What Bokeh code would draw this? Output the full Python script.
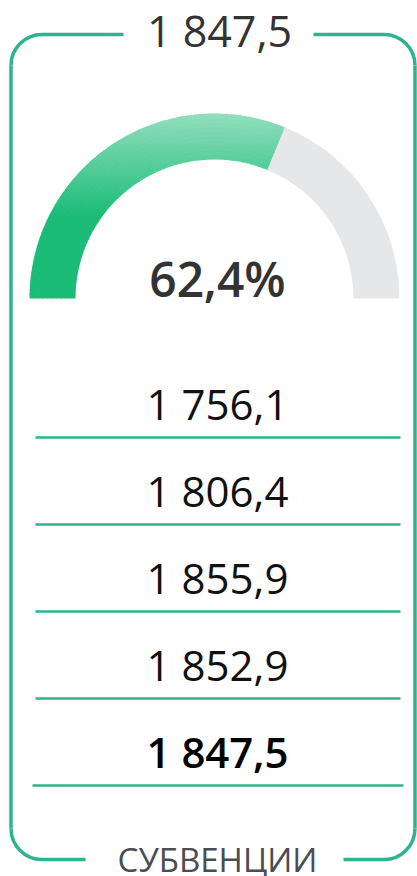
import numpy as np
from bokeh.plotting import figure
from bokeh.models import Range1d
from bokeh.core.properties import value
from bokeh.embed import file_html
from bokeh.resources import INLINE

# ---- data ----
title_value = 1847.5
percent = 62.4
row_values = [1756.1, 1806.4, 1855.9, 1852.9, 1847.5]
row_bold = [False, False, False, False, True]
caption = "СУБВЕНЦИИ"


def fmt(v, dec=1):
    s = f"{v:,.{dec}f}"
    return s.replace(",", " ").replace(".", ",")


# ---- layout (reference pixel units, y measured from top) ----
W, H = 417, 876
def Y(y):
    return H - y

TEAL = "#2DB48E"
p = figure(width=W, height=H, output_backend="svg", toolbar_location=None,
           x_range=Range1d(0, W), y_range=Range1d(0, H),
           min_border=0)
p.axis.visible = False
p.grid.visible = False
p.outline_line_color = None
p.background_fill_color = "white"
p.border_fill_color = "white"

FONT = "Open Sans"
SEMI = "Open Sans SemiBold"
BASE_SHIFT = 0.36  # empirical baseline correction (fraction of font size)


def label(x, y_base, txt, size, color, font=FONT, style="normal"):
    p.text(x=[x], y=[Y(y_base - BASE_SHIFT * size)], text=[txt], text_font=value(font),
           text_font_size=f"{size}px", text_font_style=style,
           text_color=color, text_align="center", text_baseline="alphabetic")


# frame with rounded corners and gaps for texts
L, R, T, B, rad = 10.5, 414.5, 34, 859, 31
lw = 3.5
p.segment(x0=[L + rad, 313], y0=[Y(T), Y(T)], x1=[123, R - rad], y1=[Y(T), Y(T)],
          line_color=TEAL, line_width=lw)
p.segment(x0=[L + rad, 343], y0=[Y(B), Y(B)], x1=[85, R - rad], y1=[Y(B), Y(B)],
          line_color=TEAL, line_width=lw)
p.segment(x0=[L, R], y0=[Y(T + rad), Y(T + rad)], x1=[L, R], y1=[Y(B - rad), Y(B - rad)],
          line_color=TEAL, line_width=lw)
p.arc(x=[L + rad, R - rad, L + rad, R - rad],
      y=[Y(T + rad), Y(T + rad), Y(B - rad), Y(B - rad)],
      radius=rad,
      start_angle=[np.pi / 2, 0, np.pi, 1.5 * np.pi],
      end_angle=[np.pi, np.pi / 2, 1.5 * np.pi, 2 * np.pi],
      line_color=TEAL, line_width=lw)

# title (top) and caption (bottom)
label(219, 45, fmt(title_value), 43, "#333333")
label(217, 871, caption, 33, "#4A4D52")

# gauge
cx, cy = 214, 298
r_in, r_out = 139, 185
frac = percent / 100.0
a_split = np.pi * (1 - frac)
p.annular_wedge(x=cx, y=Y(cy), inner_radius=r_in, outer_radius=r_out,
                start_angle=0, end_angle=a_split + 0.004,
                fill_color="#E6E7E9", line_color=None)

# green part with a vertical gradient: grid of small annular cells
n_ang, n_rad = 80, 10
a_edges = np.linspace(a_split, np.pi, n_ang + 1)
r_edges = np.linspace(r_in, r_out, n_rad + 1)
light = np.array([0x95, 0xE0, 0xC0])
solid = np.array([0x1B, 0xBC, 0x78])
g_x, g_y, g_ri, g_ro, g_sa, g_ea, g_col = [], [], [], [], [], [], []
for a0, a1 in zip(a_edges[:-1], a_edges[1:]):
    for k, (r0, r1) in enumerate(zip(r_edges[:-1], r_edges[1:])):
        am, rm = 0.5 * (a0 + a1), 0.5 * (r0 + r1)
        ym = cy - rm * np.sin(am)
        t = np.clip((ym - 110) / (215 - 110), 0, 1)
        c = light + (solid - light) * t
        g_x.append(cx)
        g_y.append(Y(cy))
        g_ri.append(r0)
        g_ro.append(min(r1 + 0.6, r_out))
        g_sa.append(a0)
        g_ea.append(min(a1 + 0.006, np.pi))
        g_col.append("#%02x%02x%02x" % tuple(int(round(v)) for v in c))
p.annular_wedge(x=g_x, y=g_y, inner_radius=g_ri, outer_radius=g_ro,
                start_angle=g_sa, end_angle=g_ea,
                fill_color=g_col, line_color=None)

label(217, 295, fmt(percent) + "%", 48, "#333333", font=SEMI)

# rows
row_line_y = [437 + 87 * i for i in range(len(row_values))]
for i, (v, b) in enumerate(zip(row_values, row_bold)):
    ly = row_line_y[i]
    label(217, ly - 19, fmt(v), 42, "#111111" if not b else "#000000",
          font=SEMI if b else FONT)
    x0, x1 = (32, 403) if b else (35, 400)
    p.segment(x0=[x0], y0=[Y(ly)], x1=[x1], y1=[Y(ly)],
              line_color=TEAL, line_width=2.5)

open("out.html", "w").write(file_html(p, INLINE))
